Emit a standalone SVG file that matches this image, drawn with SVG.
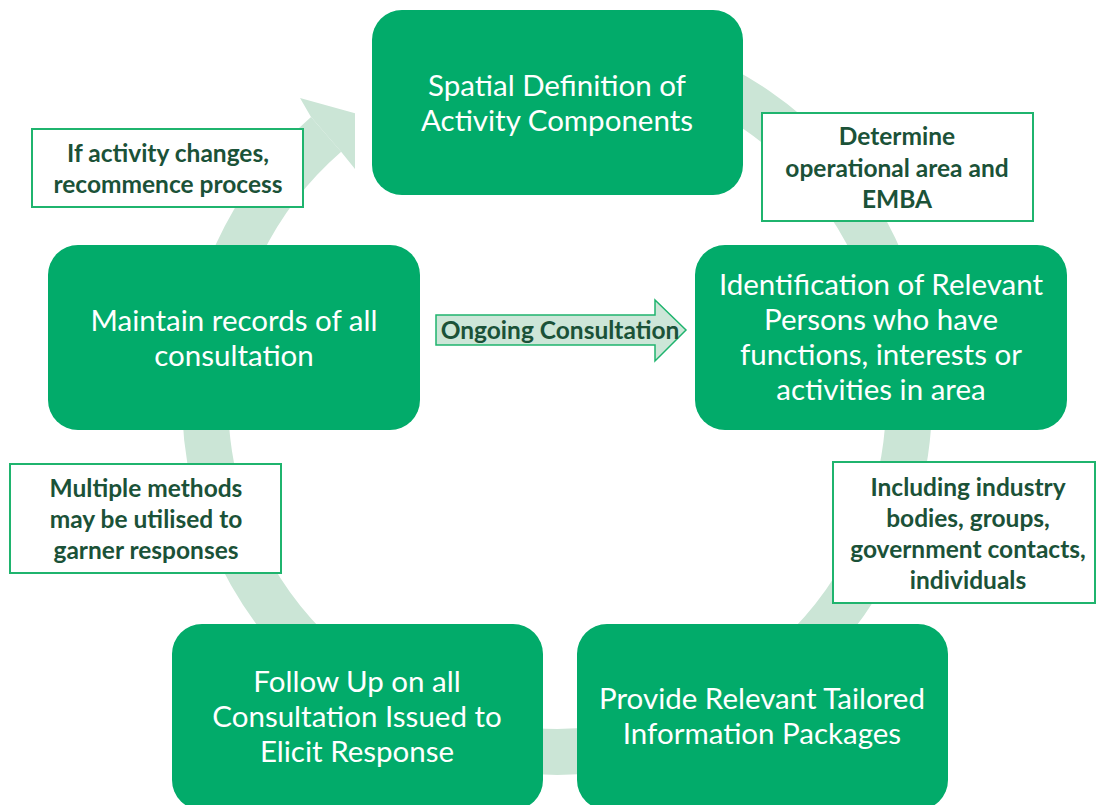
<svg xmlns="http://www.w3.org/2000/svg" width="1096" height="805" viewBox="0 0 1096 805">
<style>
.box{fill:#02ab6a;}
.bt{fill:#ffffff;font-family:Lato,"Liberation Sans",sans-serif;font-size:29.5px;text-anchor:middle;}
.note{fill:#ffffff;stroke:#1fb46e;stroke-width:2;}
.nt{fill:#1b5238;font-family:Lato,"Liberation Sans",sans-serif;font-weight:bold;font-size:24.5px;text-anchor:middle;}
.ring{fill:none;stroke:#cbe5d6;stroke-width:46;}
</style>
<defs>
<clipPath id="headclip"><rect x="0" y="0" width="355" height="805"/></clipPath>
</defs>
<rect width="1096" height="805" fill="#ffffff"/>
<g id="connectors">
<path class="ring" d="M618.1,53.3 A352,352 0 1 1 326.1,134.3"/>
<polygon points="311,117 300,98 372,118 364,180 341.1,151.7" fill="#cbe5d6" clip-path="url(#headclip)"/>
<g id="ongoing">
<polygon points="436,315 655,315 655,300 686,330 655,361 655,345 436,345" fill="#cde6d8" stroke="#1fb46e" stroke-width="1.5"/>
<text class="nt" x="560" y="339">Ongoing Consultation</text>
</g>
</g>
<g id="node-spatial">
<rect class="box" x="372" y="10" width="371" height="185" rx="30"/>
<text class="bt" x="557" y="96">Spatial Definition of</text>
<text class="bt" x="557" y="131">Activity Components</text>
</g>
<g id="node-identification">
<rect class="box" x="695" y="245" width="372" height="185" rx="30"/>
<text class="bt" x="881" y="295">Identification of Relevant</text>
<text class="bt" x="881" y="330">Persons who have</text>
<text class="bt" x="881" y="365">functions, interests or</text>
<text class="bt" x="881" y="400">activities in area</text>
</g>
<g id="node-maintain">
<rect class="box" x="48" y="245" width="372" height="185" rx="30"/>
<text class="bt" x="234" y="331">Maintain records of all</text>
<text class="bt" x="234" y="366">consultation</text>
</g>
<g id="node-followup">
<rect class="box" x="172" y="624" width="371" height="186" rx="30"/>
<text class="bt" x="357" y="692">Follow Up on all</text>
<text class="bt" x="357" y="727">Consultation Issued to</text>
<text class="bt" x="357" y="762">Elicit Response</text>
</g>
<g id="node-provide">
<rect class="box" x="577" y="624" width="371" height="186" rx="30"/>
<text class="bt" x="762" y="709">Provide Relevant Tailored</text>
<text class="bt" x="762" y="744">Information Packages</text>
</g>
<g id="note-activity">
<rect class="note" x="32" y="129" width="271" height="78"/>
<text class="nt" x="168" y="162">If activity changes,</text>
<text class="nt" x="168" y="193">recommence process</text>
</g>
<g id="note-determine">
<rect class="note" x="762" y="113" width="271" height="108"/>
<text class="nt" x="897" y="145">Determine</text>
<text class="nt" x="897" y="177">operational area and</text>
<text class="nt" x="897" y="208">EMBA</text>
</g>
<g id="note-multiple">
<rect class="note" x="10" y="464" width="271" height="109"/>
<text class="nt" x="146" y="497">Multiple methods</text>
<text class="nt" x="146" y="528">may be utilised to</text>
<text class="nt" x="146" y="559">garner responses</text>
</g>
<g id="note-including">
<rect class="note" x="833" y="462" width="262" height="141"/>
<text class="nt" x="968" y="496">Including industry</text>
<text class="nt" x="968" y="527">bodies, groups,</text>
<text class="nt" x="968" y="558">government contacts,</text>
<text class="nt" x="968" y="589">individuals</text>
</g>
</svg>
